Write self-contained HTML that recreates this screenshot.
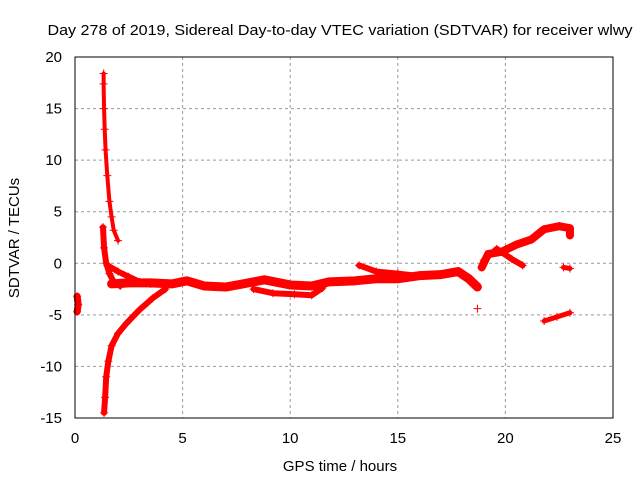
<!DOCTYPE html>
<html><head><meta charset="utf-8"><style>
body{margin:0;background:#fff}
svg{font-family:"Liberation Sans",sans-serif;font-size:15px}
</style></head><body>
<svg id="c" width="640" height="480">
<text x="340" y="35" text-anchor="middle" textLength="585" lengthAdjust="spacingAndGlyphs">Day 278 of 2019, Sidereal Day-to-day VTEC variation (SDTVAR) for receiver wlwy</text>
<text x="340" y="471" text-anchor="middle">GPS time / hours</text>
<text transform="translate(19,238) rotate(-90)" text-anchor="middle">SDTVAR / TECUs</text>
<g id="grid"></g><g id="ticks"></g><g id="marks"></g>
<rect x="75" y="57" width="538" height="361" fill="none" stroke="#000" stroke-width="1"/>
</svg>
<script>
const xTicks=[0,5,10,15,20,25];
const yTicks=[20,15,10,5,0,-5,-10,-15];
const spikeUp=[[1.33,18.4],[1.33,17.4],[1.35,15],[1.38,13],[1.42,11],[1.5,8.5],[1.6,6],[1.7,4.5],[1.8,3.2],[2.0,2.2]];
const spikeFall=[[1.3,3.5],[1.35,1.5],[1.45,0],[1.6,-1.0],[1.8,-1.8],[2.1,-2.2]];
const curveDown=[[1.5,-0.2],[2.0,-0.8],[2.5,-1.3],[3.0,-1.8],[3.5,-2.0]];
const negBranch=[[1.35,-14.5],[1.4,-13],[1.45,-11],[1.55,-9.5],[1.7,-8],[2.0,-6.8],[2.4,-5.8],[3.0,-4.5],[3.6,-3.4],[4.2,-2.5]];
const startCluster=[[0.1,-3.2],[0.15,-4],[0.1,-4.7]];
const mainBand=[[1.7,-2.0],[2.5,-1.9],[3.5,-1.9],[4.5,-2.0],[5.2,-1.7],[6.0,-2.2],[7.0,-2.3],[7.8,-2.0],[8.8,-1.6],[10,-2.1],[11,-2.2],[11.8,-1.8],[13,-1.7],[14,-1.5],[15,-1.5],[16,-1.2],[17,-1.1],[17.8,-0.8],[18.3,-1.5],[18.7,-2.3]];
const lowerBand=[[8.3,-2.5],[9.2,-2.9],[10.2,-3.0],[11.0,-3.1],[11.5,-2.4]];
const upperBump=[[13.2,-0.2],[14.0,-0.8],[15.0,-1.0],[15.8,-1.2]];
const lateRise=[[18.9,-0.4],[19.2,0.9],[19.8,1.1],[20.5,1.8],[21.2,2.3],[21.8,3.3],[22.5,3.6],[23.0,3.4],[23.0,2.7]];
const lateBranch=[[19.0,0.3],[19.6,1.4],[20.3,0.4],[20.8,-0.2]];
const lateCluster=[[22.7,-0.4],[23.0,-0.5]];
const lateLow=[[21.8,-5.6],[22.4,-5.2],[23.0,-4.8]];
const outlier=[[18.7,-4.4]];
const tracks=[[spikeUp,4],[spikeFall,6],[curveDown,6],[negBranch,6],[startCluster,7],[mainBand,9],[lowerBand,6],[upperBump,6],[lateRise,8],[lateBranch,6],[lateCluster,5],[lateLow,5],[outlier,0]];
const X=v=>75+v*538/25, Y=v=>57+(20-v)*361/35;
const NS="http://www.w3.org/2000/svg";
const g=document.getElementById('grid'),t=document.getElementById('ticks'),m=document.getElementById('marks');
function mk(p,tag,a){const e=document.createElementNS(NS,tag);for(const k in a)e.setAttribute(k,a[k]);p.appendChild(e);return e;}
xTicks.forEach(v=>{
  if(v>0&&v<25){const l=mk(g,'line',{x1:X(v),x2:X(v),y1:57,y2:418,stroke:'#999','stroke-dasharray':'3,3'});
  
  }
  const s=mk(t,'text',{x:X(v),y:443,'text-anchor':'middle'});s.textContent=v;
  
  
});
yTicks.forEach(v=>{
  if(v<20&&v>-15){const l=mk(g,'line',{x1:75,x2:613,y1:Y(v),y2:Y(v),stroke:'#999','stroke-dasharray':'3,3'});
  
  }
  const s=mk(t,'text',{x:62,y:Y(v)+5,'text-anchor':'end'});s.textContent=v;
  
  
});
tracks.forEach(([pts,w])=>{
  if(w>0){const pl=mk(m,'polyline',{points:pts.map(p=>X(p[0])+','+Y(p[1])).join(' '),fill:'none',stroke:'#f00','stroke-width':w,'stroke-linejoin':'round','stroke-linecap':'round'});
  
  }
  pts.forEach(p=>{const x=X(p[0]),y=Y(p[1]);
    const c=mk(m,'path',{d:`M${x-4},${y}H${x+4}M${x},${y-4}V${y+4}`,stroke:'#f00','stroke-width':1});
    
    });
});
</script>
</body></html>
